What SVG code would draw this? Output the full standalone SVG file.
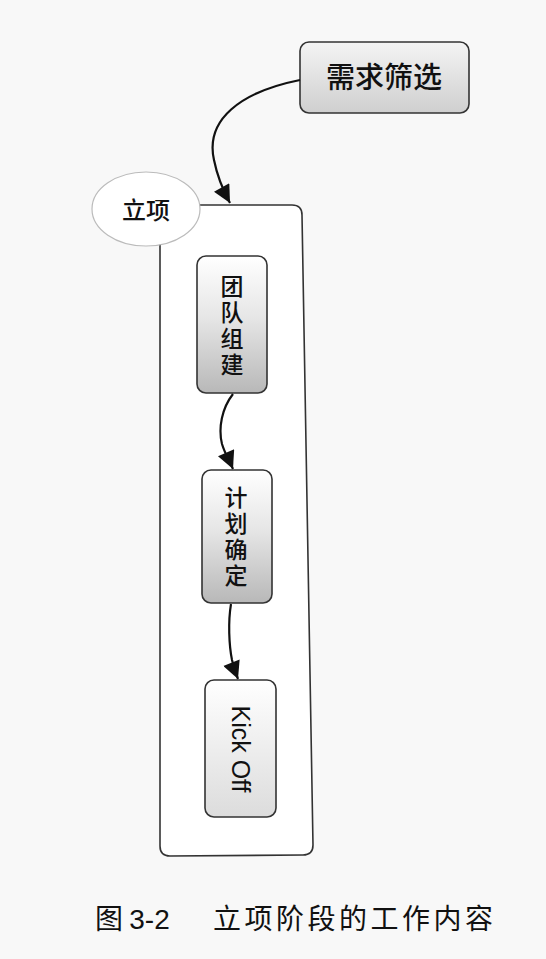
<svg xmlns="http://www.w3.org/2000/svg" width="546" height="959" viewBox="0 0 546 959">
<defs>
<linearGradient id="gTop" x1="0" y1="0" x2="0" y2="1">
<stop offset="0" stop-color="#f4f4f4"/><stop offset="1" stop-color="#cfcfcf"/>
</linearGradient>
<linearGradient id="gBox" x1="0" y1="0" x2="0" y2="1">
<stop offset="0" stop-color="#ffffff"/><stop offset="0.45" stop-color="#e6e6e6"/><stop offset="1" stop-color="#b8b8b8"/>
</linearGradient>
<linearGradient id="gKick" x1="0" y1="0" x2="0" y2="1">
<stop offset="0" stop-color="#ffffff"/><stop offset="1" stop-color="#dcdcdc"/>
</linearGradient>
<marker id="arr" viewBox="0 0 10 10" refX="10" refY="5" markerWidth="9" markerHeight="8" markerUnits="strokeWidth" orient="auto">
<path d="M0,0 L10,5 L0,10 z" fill="#111"/>
</marker>
</defs>
<style>
.box{stroke:#333;stroke-width:1.6}
.t{font-family:"Noto Sans CJK SC","Liberation Sans",sans-serif;fill:#111;text-anchor:middle;font-weight:500}
.v{writing-mode:vertical-rl;letter-spacing:3px}
.c{fill:none;stroke:#111;stroke-width:2.2}
</style>
<rect width="546" height="959" fill="#f8f8f8"/>
<g id="container">
<path d="M160,215 L160,846 Q160,856 170,856 L303,855 Q313,855 313,845 L302,215 Q302,205 292,205 L170,205 Z" fill="#ffffff" stroke="#333" stroke-width="1.6"/>
</g>
<g id="lixiang">
<ellipse cx="146" cy="209" rx="54" ry="37" fill="#ffffff" stroke="#bbb" stroke-width="1.2"/>
<text class="t" x="146" y="219" font-size="24">立项</text>
</g>
<g id="xuqiu">
<rect class="box" x="300" y="42" width="169" height="71" rx="9" fill="url(#gTop)"/>
<text class="t" x="384" y="88" font-size="29">需求筛选</text>
</g>
<g id="tuandui">
<rect class="box" x="197" y="256" width="70" height="137" rx="9" fill="url(#gBox)"/>
<text class="t v" x="232" y="327" font-size="23">团队组建</text>
</g>
<g id="jihua">
<rect class="box" x="202" y="470" width="70" height="133" rx="9" fill="url(#gBox)"/>
<text class="t v" x="236" y="538" font-size="23">计划确定</text>
</g>
<g id="kickoff">
<rect class="box" x="205" y="680" width="71" height="137" rx="9" fill="url(#gKick)"/>
<text x="0" y="0" font-size="25" transform="translate(232,749) rotate(90)" style="font-family:'Liberation Sans',sans-serif;text-anchor:middle;fill:#111">Kick Off</text>
</g>
<g id="connectors">
<path class="c" d="M300,80 C240,92 205,120 214,160 C218,180 224,192 230,203" marker-end="url(#arr)"/>
<path class="c" d="M233,394 C222,408 218,428 222,444 C225,454 230,462 233,469" marker-end="url(#arr)"/>
<path class="c" d="M231,604 C228,622 229,645 232,660 C234,668 236,674 238,679" marker-end="url(#arr)"/>
</g>
<g id="caption">
<text x="95" y="929" font-size="28" style="font-family:'Noto Sans CJK SC','Liberation Sans',sans-serif" fill="#111">图 <tspan style="font-family:'Liberation Sans',sans-serif">3-2</tspan></text>
<text x="213" y="929" font-size="28" letter-spacing="3.5" style="font-family:'Noto Sans CJK SC',sans-serif" fill="#111">立项阶段的工作内容</text>
</g>
</svg>
